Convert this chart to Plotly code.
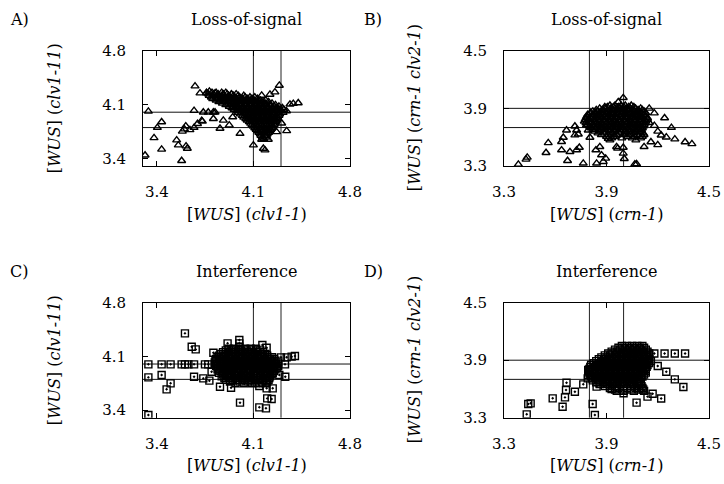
import plotly.graph_objects as go

PW, PH = 724, 484
OFF = 0
W, H = PW - OFF, PH - OFF

# ---------------- data ----------------
# Panel A: Loss-of-signal, clv1-1 vs clv1-11 (triangles)
A_x_out = [3.677,3.713,3.761,3.781,3.822,3.882,3.942,4.288,4.256,4.220,4.160,4.365,4.389,4.425,3.339,3.435,3.404,3.380,3.435,3.315,3.580,3.544,3.556,3.612,3.621,3.585,3.600,3.640,3.670,3.695,3.730,3.610,3.670,3.737,3.773,3.810,3.822,3.725,3.810,3.882,3.950,3.858,3.925,4.003,4.100,4.160,4.208,4.172,4.184,4.268,4.341,4.305]
A_y_out = [4.339,4.248,4.248,4.270,4.248,4.231,4.231,4.348,4.261,4.231,4.218,4.103,4.112,4.120,4.011,3.873,3.800,3.666,3.516,3.440,3.369,3.636,3.571,3.559,3.528,3.750,3.780,3.770,3.800,3.850,3.880,3.820,4.020,3.999,3.999,3.999,3.999,3.890,3.915,3.894,3.937,3.788,3.831,3.722,3.571,3.645,3.645,3.528,3.506,3.744,3.757,3.856]
A_rows = [
    (4.255, [3.76,3.80,3.83,3.87,3.90]),
    (4.235, [3.775,3.81,3.845,3.88,3.91,3.94,3.975]),
    (4.215, [3.78,3.815,3.85,3.88,3.92,3.955,3.99,4.03]),
    (4.195, [3.795,3.83,3.865,3.895,3.93,3.965,4.00,4.04,4.075,4.11]),
    (4.175, [3.805,3.84,3.875,3.91,3.945,3.98,4.02,4.055,4.09,4.13]),
    (4.155, [3.83,3.86,3.895,3.93,3.965,4.00,4.04,4.075,4.11,4.15,4.19]),
    (4.135, [3.85,3.885,3.92,3.96,3.99,4.03,4.065,4.10,4.135,4.17,4.21]),
    (4.115, [3.875,3.91,3.945,3.975,4.01,4.045,4.085,4.12,4.155,4.19,4.235]),
    (4.095, [3.90,3.935,3.97,4.005,4.04,4.075,4.11,4.145,4.18,4.22,4.26]),
    (4.075, [3.925,3.955,3.99,4.025,4.06,4.095,4.13,4.165,4.20,4.25,4.285]),
    (4.055, [3.945,3.98,4.02,4.055,4.09,4.125,4.16,4.20,4.235,4.27,4.31]),
    (4.035, [3.96,4.00,4.035,4.07,4.105,4.14,4.18,4.215,4.25,4.285,4.32]),
    (4.015, [3.98,4.015,4.05,4.085,4.12,4.16,4.195,4.23,4.265,4.30,4.34]),
    (3.995, [3.99,4.03,4.065,4.10,4.135,4.17,4.205,4.24,4.28,4.315]),
    (3.975, [4.005,4.045,4.08,4.115,4.15,4.185,4.22,4.255,4.29]),
    (3.955, [4.02,4.055,4.09,4.125,4.16,4.195,4.23,4.265,4.285]),
    (3.935, [4.03,4.065,4.10,4.135,4.17,4.205,4.24,4.275]),
    (3.915, [4.045,4.08,4.115,4.15,4.185,4.22,4.255,4.27]),
    (3.895, [4.055,4.09,4.125,4.16,4.195,4.23,4.265]),
    (3.875, [4.07,4.105,4.14,4.175,4.21,4.245,4.26]),
    (3.855, [4.08,4.115,4.15,4.185,4.22,4.255]),
    (3.835, [4.09,4.125,4.16,4.195,4.23,4.25]),
    (3.815, [4.10,4.135,4.17,4.205,4.24]),
    (3.795, [4.11,4.145,4.18,4.215,4.235]),
    (3.775, [4.12,4.155,4.19,4.225]),
    (3.755, [4.13,4.165,4.20,4.215]),
    (3.735, [4.14,4.175,4.21]),
    (3.715, [4.15,4.185,4.20]),
    (3.695, [4.155,4.195]),
    (3.675, [4.165,4.19]),
    (3.655, [4.175]),
]

# Panel B: Loss-of-signal, crn-1 vs crn-1 clv2-1 (triangles)
B_x_out = [3.384,3.429,3.436,3.546,3.559,3.637,3.647,3.637,3.666,3.672,3.686,3.715,3.725,3.715,3.735,3.741,3.725,3.764,3.783,3.793,3.803,3.838,3.861,3.871,3.895,3.881,3.842,3.920,3.959,3.998,3.998,4.004,3.940,3.998,3.969,4.066,4.076,4.072,4.086,3.965,3.910,
           4.15,4.18,4.20,4.22,4.25,4.30,4.36,4.40,4.16,4.20,4.24,4.28,4.15,4.18,4.12]
B_y_out = [3.317,3.369,3.390,3.438,3.541,3.552,3.597,3.466,3.672,3.355,3.448,3.714,3.672,3.621,3.631,3.493,3.466,3.328,3.724,3.672,3.597,3.466,3.500,3.414,3.379,3.345,3.328,3.569,3.500,3.493,3.431,3.376,3.603,4.010,3.966,3.320,3.321,3.569,3.741,3.483,3.586,
           3.75,3.72,3.66,3.62,3.60,3.58,3.55,3.53,3.55,3.52,3.80,3.70,3.90,3.85,3.50]
B_rows = [
    (3.93, [3.92,3.95,3.985,4.01,4.045]),
    (3.915, [3.89,3.905,3.94,3.97,4.00,4.03,4.06]),
    (3.90, [3.86,3.89,3.925,3.95,3.98,4.015,4.04,4.07,4.10]),
    (3.884, [3.84,3.875,3.905,3.935,3.965,3.995,4.025,4.055,4.085,4.11]),
    (3.868, [3.82,3.85,3.885,3.91,3.94,3.975,4.00,4.03,4.065,4.09,4.12]),
    (3.852, [3.805,3.835,3.865,3.90,3.93,3.96,3.99,4.02,4.045,4.075,4.105,4.13]),
    (3.835, [3.79,3.82,3.85,3.88,3.915,3.94,3.97,4.005,4.03,4.06,4.09,4.12]),
    (3.818, [3.785,3.815,3.845,3.86,3.895,3.925,3.955,3.985,4.015,4.045,4.075,4.10,4.13]),
    (3.80, [3.78,3.81,3.84,3.875,3.90,3.93,3.96,3.995,4.02,4.05,4.085,4.11,4.14]),
    (3.783, [3.775,3.795,3.825,3.855,3.885,3.915,3.945,3.975,4.005,4.035,4.065,4.095,4.125,4.14]),
    (3.765, [3.77,3.80,3.835,3.86,3.89,3.925,3.95,3.98,4.01,4.045,4.07,4.10,4.13]),
    (3.748, [3.78,3.81,3.84,3.87,3.90,3.93,3.96,3.99,4.02,4.05,4.08,4.11,4.125]),
    (3.73, [3.79,3.82,3.85,3.88,3.91,3.945,3.97,4.00,4.035,4.06,4.09,4.12]),
    (3.712, [3.80,3.83,3.865,3.895,3.925,3.955,3.985,4.015,4.045,4.075,4.10,4.115]),
    (3.695, [3.81,3.84,3.87,3.905,3.93,3.96,3.99,4.025,4.05,4.08,4.11]),
    (3.678, [3.82,3.855,3.885,3.915,3.945,3.975,4.00,4.03,4.06,4.09,4.105]),
    (3.66, [3.83,3.86,3.895,3.92,3.95,3.985,4.01,4.04,4.07,4.10]),
    (3.642, [3.85,3.885,3.935,3.975,4.02,4.06,4.10,4.115]),
    (3.625, [3.87,3.91,3.96,4.00,4.04,4.08,4.12]),
    (3.607, [3.90,3.95,4.02,4.065,4.11]),
    (3.59, [3.93,3.99,4.05,4.10]),
]

# Panel C: Interference, clv1-1 vs clv1-11 (squares)
C_x_out = [3.604,3.653,3.682,3.810,3.913,3.998,3.998,3.998,3.339,3.435,3.500,3.580,3.604,3.629,3.670,3.749,3.773,3.820,3.339,3.435,3.500,3.471,3.670,3.737,3.781,3.797,3.858,3.938,4.003,4.068,4.143,4.196,4.240,4.200,4.232,4.143,4.191,3.339,4.165,4.196,4.331,4.288,4.341,4.377,4.401,4.329,4.300]
C_y_out = [4.400,4.226,4.191,4.148,4.270,4.313,4.270,4.226,3.996,3.996,3.996,3.996,3.996,3.996,3.996,3.996,3.996,3.996,3.826,3.857,3.748,3.670,3.835,3.813,3.783,3.900,3.704,3.691,3.496,3.791,3.713,3.683,3.683,3.552,3.543,3.435,3.422,3.335,4.248,4.213,3.835,3.857,4.087,4.096,4.104,3.996,4.087]
C_rows = [
    (4.20, [3.92,3.96,4.00,4.04,4.08,4.12]),
    (4.178, [3.90,3.94,3.975,4.01,4.05,4.085,4.12,4.15]),
    (4.155, [3.88,3.92,3.95,3.99,4.02,4.06,4.09,4.13,4.17]),
    (4.133, [3.865,3.90,3.935,3.97,4.005,4.04,4.075,4.11,4.15,4.185]),
    (4.11, [3.85,3.88,3.92,3.95,3.99,4.02,4.06,4.09,4.13,4.16,4.20]),
    (4.088, [3.84,3.885,3.92,3.955,3.99,4.025,4.06,4.095,4.13,4.165,4.20,4.235]),
    (4.065, [3.83,3.87,3.90,3.94,3.97,4.01,4.04,4.08,4.11,4.15,4.18,4.22,4.25]),
    (4.043, [3.825,3.875,3.91,3.945,3.98,4.015,4.05,4.085,4.12,4.155,4.19,4.225,4.26]),
    (4.02, [3.82,3.86,3.89,3.93,3.96,4.00,4.03,4.07,4.10,4.14,4.17,4.21,4.24,4.28]),
    (3.998, [3.835,3.875,3.915,3.95,3.985,4.02,4.055,4.09,4.125,4.16,4.195,4.23,4.265]),
    (3.975, [3.83,3.86,3.90,3.93,3.97,4.00,4.04,4.07,4.11,4.14,4.18,4.21,4.25,4.28]),
    (3.953, [3.845,3.885,3.92,3.955,3.99,4.03,4.065,4.10,4.135,4.17,4.205,4.24,4.27]),
    (3.93, [3.84,3.87,3.91,3.94,3.98,4.01,4.05,4.08,4.12,4.15,4.19,4.22,4.26]),
    (3.908, [3.86,3.90,3.94,3.975,4.01,4.045,4.08,4.115,4.15,4.185,4.22,4.25]),
    (3.885, [3.85,3.89,3.92,3.96,3.99,4.03,4.06,4.10,4.13,4.17,4.20,4.24]),
    (3.863, [3.88,3.92,3.96,3.995,4.03,4.065,4.10,4.135,4.17,4.205,4.23]),
    (3.84, [3.87,3.91,3.94,3.98,4.01,4.05,4.08,4.12,4.15,4.19,4.22]),
    (3.818, [3.89,3.93,3.97,4.02,4.06,4.10,4.15,4.19,4.215]),
    (3.795, [3.90,3.95,3.99,4.04,4.08,4.13,4.17,4.21]),
    (3.773, [3.93,4.00,4.06,4.11,4.165,4.20]),
    (3.75, [3.97,4.03,4.09,4.14,4.19]),
]

# Panel D: Interference, crn-1 vs crn-1 clv2-1 (squares)
D_x_out = [3.433,3.442,3.456,3.585,3.643,3.657,3.663,3.666,3.715,3.764,3.819,3.832,3.793,3.793,3.790,3.842,3.930,4.076,3.960,4.000,
           4.18,4.24,4.30,4.36,4.20,4.25,4.30,4.35,4.17,4.22,4.14]
D_y_out = [3.335,3.443,3.450,3.502,3.415,3.512,3.589,3.665,3.571,3.648,3.443,3.328,3.797,3.745,3.710,3.624,3.600,3.457,3.580,3.555,
           3.97,3.97,3.97,3.97,3.84,3.78,3.70,3.62,3.55,3.50,3.52]
D_rows = [
    (4.05, [3.99,4.02,4.05,4.08,4.11]),
    (4.03, [3.97,4.00,4.035,4.065,4.095,4.12]),
    (4.01, [3.95,3.98,4.01,4.04,4.07,4.10,4.13]),
    (3.99, [3.93,3.96,3.995,4.025,4.055,4.085,4.115,4.14]),
    (3.97, [3.91,3.94,3.97,4.00,4.03,4.06,4.09,4.12,4.15]),
    (3.95, [3.89,3.92,3.955,3.985,4.015,4.045,4.075,4.105,4.13,4.15]),
    (3.93, [3.87,3.90,3.93,3.96,3.99,4.02,4.05,4.08,4.11,4.14]),
    (3.91, [3.855,3.885,3.915,3.945,3.975,4.005,4.035,4.065,4.095,4.125,4.15]),
    (3.89, [3.84,3.87,3.90,3.93,3.96,3.99,4.02,4.05,4.08,4.11,4.14,4.16]),
    (3.87, [3.825,3.855,3.885,3.915,3.945,3.975,4.005,4.035,4.065,4.095,4.125,4.15]),
    (3.85, [3.81,3.84,3.87,3.90,3.93,3.96,3.99,4.02,4.05,4.08,4.11,4.14]),
    (3.83, [3.805,3.835,3.865,3.895,3.925,3.955,3.985,4.015,4.045,4.075,4.105,4.135]),
    (3.81, [3.80,3.83,3.86,3.89,3.92,3.95,3.98,4.01,4.04,4.07,4.10,4.13]),
    (3.79, [3.80,3.815,3.845,3.875,3.905,3.935,3.965,3.995,4.025,4.055,4.085,4.115,4.13]),
    (3.77, [3.80,3.83,3.86,3.89,3.92,3.95,3.98,4.01,4.04,4.07,4.10,4.13]),
    (3.75, [3.805,3.835,3.865,3.895,3.925,3.955,3.985,4.015,4.045,4.075,4.105,4.12]),
    (3.73, [3.81,3.84,3.87,3.90,3.93,3.96,3.99,4.02,4.05,4.08,4.11]),
    (3.71, [3.815,3.845,3.875,3.905,3.935,3.965,3.995,4.025,4.055,4.085,4.10]),
    (3.69, [3.82,3.85,3.88,3.91,3.94,3.97,4.00,4.03,4.06,4.09]),
    (3.67, [3.84,3.87,3.90,3.93,3.96,3.99,4.02,4.05,4.08,4.10]),
    (3.65, [3.86,3.90,3.94,3.98,4.02,4.06,4.10]),
    (3.63, [3.89,3.92,3.96,4.00,4.04,4.08,4.105]),
    (3.61, [3.92,3.97,4.02,4.07,4.11]),
    (3.595, [3.95,4.00,4.045,4.09,4.115]),
    (3.58, [4.00,4.06,4.12]),
]

# axes / reference lines
AC_range = [3.3, 4.8]
AC_ticks = [3.4, 4.1, 4.8]
BD_range = [3.3, 4.5]
BD_ticks = [3.3, 3.9, 4.5]
AC_vlines = [4.1, 4.3]
AC_hlines = [3.8, 4.0]
BD_vlines = [3.8, 4.0]
BD_hlines = [3.7, 3.9]

titles = ["Loss-of-signal", "Loss-of-signal", "Interference", "Interference"]
letters = ["A)", "B)", "C)", "D)"]
xtitles = ["[<i>WUS</i>] (<i>clv1-1</i>)", "[<i>WUS</i>] (<i>crn-1</i>)",
           "[<i>WUS</i>] (<i>clv1-1</i>)", "[<i>WUS</i>] (<i>crn-1</i>)"]
ytitles = ["[<i>WUS</i>] (<i>clv1-11</i>)", "[<i>WUS</i>] (<i>crn-1 clv2-1</i>)",
           "[<i>WUS</i>] (<i>clv1-11</i>)", "[<i>WUS</i>] (<i>crn-1 clv2-1</i>)"]

# ---------------- figure ----------------
FONT = "DejaVu Serif"
fig = go.Figure()

def fx(px):  # picture x pixel -> paper fraction
    return (px - OFF) / W

def fy(py):  # picture y pixel -> paper fraction
    return 1 - (py - OFF) / H

def flatten(xo, yo, rows):
    xs, ys = list(xo), list(yo)
    for yv, xl in rows:
        for xv in xl:
            xs.append(xv)
            ys.append(yv)
    return xs, ys

panels = [
    dict(xo=A_x_out, yo=A_y_out, rows=A_rows, sym="triangle-up-open", xpx=(143, 350), ypx=(50.7, 166),
         xr=AC_range, yr=AC_range, xt=AC_ticks, yt=AC_ticks, vl=AC_vlines, hl=AC_hlines),
    dict(xo=B_x_out, yo=B_y_out, rows=B_rows, sym="triangle-up-open", xpx=(504, 709), ypx=(50.7, 166),
         xr=BD_range, yr=BD_range, xt=BD_ticks, yt=BD_ticks, vl=BD_vlines, hl=BD_hlines),
    dict(xo=C_x_out, yo=C_y_out, rows=C_rows, sym="square-open-dot", xpx=(143, 350), ypx=(302.7, 417.7),
         xr=AC_range, yr=AC_range, xt=AC_ticks, yt=AC_ticks, vl=AC_vlines, hl=AC_hlines),
    dict(xo=D_x_out, yo=D_y_out, rows=D_rows, sym="square-open-dot", xpx=(504, 709), ypx=(302.7, 417.7),
         xr=BD_range, yr=BD_range, xt=BD_ticks, yt=BD_ticks, vl=BD_vlines, hl=BD_hlines),
]

annotations = []
shapes = []
for i, p in enumerate(panels, start=1):
    sx = "" if i == 1 else str(i)
    xs, ys = flatten(p["xo"], p["yo"], p["rows"])
    fig.add_trace(go.Scatter(
        x=xs, y=ys, mode="markers", xaxis="x" + sx, yaxis="y" + sx, showlegend=False,
        marker=dict(symbol=p["sym"], size=7, color="black", line=dict(width=1.4, color="black")),
        hoverinfo="skip"))
    tf = dict(family=FONT, size=15, color="black")
    common = dict(ticks="inside", ticklen=5, tickcolor="black", showline=True, linecolor="black",
                  linewidth=1, mirror="ticks", showgrid=False, zeroline=False, tickfont=tf,
                  automargin=False)
    fig.update_layout(**{
        "xaxis" + sx: dict(domain=[fx(p["xpx"][0]), fx(p["xpx"][1])], range=p["xr"], anchor="y" + sx,
                           tickvals=p["xt"], ticktext=[f"{v:.1f}" for v in p["xt"]],
                           ticklabelstandoff=12, **common),
        "yaxis" + sx: dict(domain=[fy(p["ypx"][1]), fy(p["ypx"][0])], range=p["yr"], anchor="x" + sx,
                           tickvals=p["yt"], ticktext=[f"{v:.1f}" for v in p["yt"]],
                           ticklabelstandoff=13, **common),
    })
    for v in p["vl"]:
        shapes.append(dict(type="line", xref="x" + sx, yref="y" + sx + " domain", x0=v, x1=v, y0=0, y1=1,
                           line=dict(color="#222", width=1), layer="below"))
    for v in p["hl"]:
        shapes.append(dict(type="line", xref="x" + sx + " domain", yref="y" + sx, x0=0, x1=1, y0=v, y1=v,
                           line=dict(color="#111", width=1), layer="below"))

    cx = (p["xpx"][0] + p["xpx"][1]) / 2
    cy = (p["ypx"][0] + p["ypx"][1]) / 2
    top = p["ypx"][0]
    bot = p["ypx"][1]
    left_letter = 8 if p["xpx"][0] < 300 else 362
    ytitle_x = 54 if p["xpx"][0] < 300 else 414
    af = dict(family=FONT, size=16, color="black")
    annotations += [
        dict(text=letters[i - 1], x=fx(left_letter), y=fy(top - 31), xref="paper", yref="paper",
             xanchor="left", yanchor="middle", showarrow=False, font=af),
        dict(text=titles[i - 1], x=fx(cx), y=fy(top - 31), xref="paper", yref="paper",
             xanchor="center", yanchor="middle", showarrow=False, font=af),
        dict(text=xtitles[i - 1], x=fx(cx), y=fy(bot + 48), xref="paper", yref="paper",
             xanchor="center", yanchor="middle", showarrow=False, font=af),
        dict(text=ytitles[i - 1], x=fx(ytitle_x), y=fy(cy), xref="paper", yref="paper",
             xanchor="center", yanchor="middle", showarrow=False, font=af, textangle=-90),
    ]

fig.update_layout(width=W, height=H, margin=dict(l=0, r=0, t=0, b=0, autoexpand=False),
                  paper_bgcolor="white", plot_bgcolor="white", hovermode=False,
                  annotations=annotations, shapes=shapes, font=dict(family=FONT, color="black"))
fig.write_html("out.html", config={"displayModeBar": False, "staticPlot": True},
               post_script="document.body.style.margin='0';document.body.style.overflow='hidden';")
